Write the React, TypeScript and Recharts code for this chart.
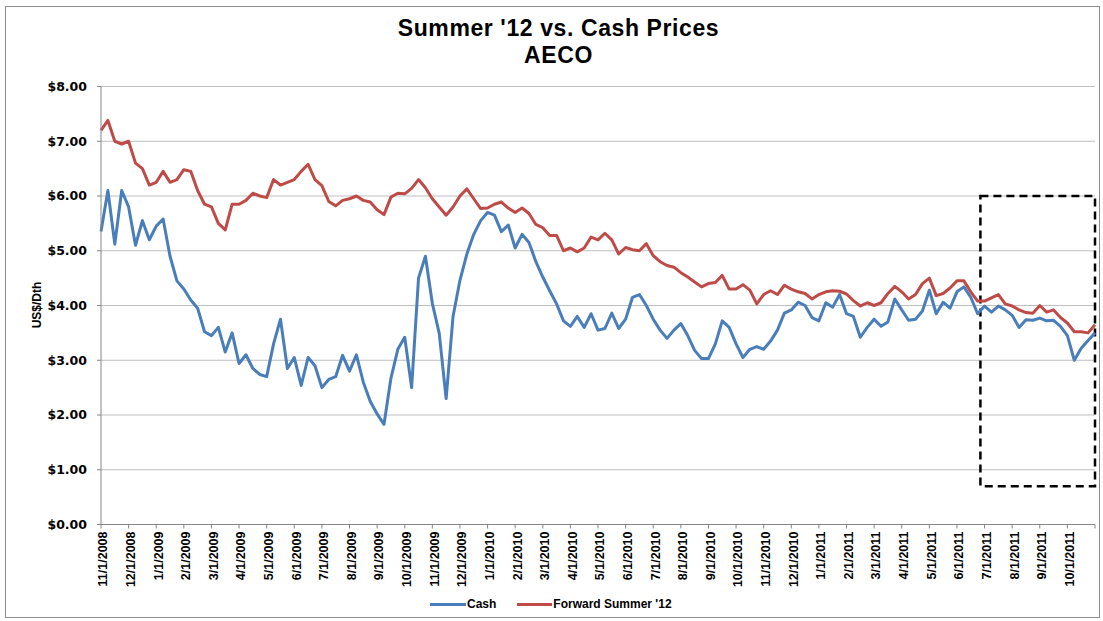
import React from "react";
import {
  LineChart,
  Line,
  XAxis,
  YAxis,
  CartesianGrid,
  ReferenceArea,
} from "recharts";

// month-start tick labels, 11/1/2008 .. 10/1/2011
const months = [
  "11/1/2008", "12/1/2008",
  "1/1/2009", "2/1/2009", "3/1/2009", "4/1/2009", "5/1/2009", "6/1/2009",
  "7/1/2009", "8/1/2009", "9/1/2009", "10/1/2009", "11/1/2009", "12/1/2009",
  "1/1/2010", "2/1/2010", "3/1/2010", "4/1/2010", "5/1/2010", "6/1/2010",
  "7/1/2010", "8/1/2010", "9/1/2010", "10/1/2010", "11/1/2010", "12/1/2010",
  "1/1/2011", "2/1/2011", "3/1/2011", "4/1/2011", "5/1/2011", "6/1/2011",
  "7/1/2011", "8/1/2011", "9/1/2011", "10/1/2011",
];

// prices sampled 4 times a month, starting 11/1/2008
const cash = [
  5.35, 6.1, 5.12, 6.1, 5.8, 5.1, 5.55, 5.2, 5.45, 5.58, 4.9, 4.45, 4.3, 4.1, 3.95,
  3.52, 3.45, 3.6, 3.15, 3.5, 2.94, 3.1, 2.85, 2.74, 2.7, 3.3, 3.75, 2.85, 3.05, 2.54,
  3.05, 2.9, 2.5, 2.65, 2.7, 3.09, 2.8, 3.1, 2.6, 2.25, 2.02, 1.83, 2.67, 3.2, 3.42,
  2.5, 4.5, 4.9, 4.04, 3.49, 2.3, 3.8, 4.46, 4.94, 5.3, 5.55, 5.7, 5.65,
  5.35, 5.47, 5.05, 5.3, 5.15, 4.8, 4.52, 4.27, 4.03, 3.72, 3.62, 3.8, 3.6, 3.85, 3.55,
  3.58, 3.86, 3.58, 3.75, 4.15, 4.2, 4.0, 3.75, 3.55, 3.4, 3.55, 3.67, 3.45, 3.18, 3.03,
  3.03, 3.3, 3.72, 3.6, 3.3, 3.05, 3.2, 3.25, 3.2, 3.35, 3.55, 3.86, 3.92, 4.06,
  4.0, 3.78, 3.72, 4.05, 3.97, 4.2, 3.85, 3.8, 3.42, 3.6, 3.75, 3.62, 3.7, 4.12,
  3.92, 3.73, 3.75, 3.9, 4.28, 3.85, 4.06, 3.95, 4.25, 4.34, 4.15, 3.85, 3.99, 3.88, 3.99,
  3.92, 3.82, 3.6, 3.74, 3.73, 3.77, 3.72, 3.73, 3.62, 3.45, 3.0, 3.22, 3.36, 3.5,
];

const forward = [
  7.2, 7.38, 7.0, 6.95, 7.0, 6.6, 6.5, 6.2, 6.25, 6.45, 6.25, 6.3, 6.48, 6.45, 6.1,
  5.85, 5.8, 5.5, 5.38, 5.85, 5.85, 5.92, 6.05, 6.0, 5.97, 6.3, 6.2, 6.25, 6.3, 6.45,
  6.58, 6.3, 6.19, 5.9, 5.82, 5.92, 5.95, 6.0, 5.92, 5.89, 5.75, 5.66, 5.98, 6.05, 6.04,
  6.14, 6.3, 6.15, 5.95, 5.8, 5.65, 5.8, 6.0, 6.13, 5.95, 5.77, 5.78, 5.85,
  5.89, 5.78, 5.7, 5.78, 5.68, 5.48, 5.42, 5.28, 5.28, 5.0, 5.05, 4.98, 5.05, 5.25, 5.2,
  5.32, 5.2, 4.94, 5.06, 5.02, 5.0, 5.13, 4.91, 4.8, 4.73, 4.7, 4.6, 4.52, 4.43, 4.34,
  4.4, 4.42, 4.55, 4.3, 4.3, 4.38, 4.28, 4.03, 4.2, 4.27, 4.2, 4.37, 4.3, 4.25,
  4.22, 4.12, 4.2, 4.25, 4.27, 4.26, 4.21, 4.09, 3.99, 4.05, 4.0, 4.05, 4.22, 4.35,
  4.25, 4.12, 4.2, 4.4, 4.5, 4.18, 4.22, 4.32, 4.45, 4.45, 4.25, 4.08, 4.08, 4.14, 4.2,
  4.03, 3.99, 3.92, 3.87, 3.86, 4.0, 3.88, 3.92, 3.78, 3.68, 3.52, 3.52, 3.5, 3.65,
];

const yTicks = [0, 1, 2, 3, 4, 5, 6, 7, 8];
const PER_MONTH = 4;

// highlighted window (months from 11/1/2008, US$)
const boxMonths = [31.85, 36];
const boxPrices = [0.7, 6.0];

const data = cash.map((c, i) => ({ t: i / PER_MONTH, cash: c, forward: forward[i] }));
const xTicks = Array.from({ length: months.length + 1 }, (_, i) => i);

const BLUE = "#4a7ebb";
const RED = "#be4b48";
const AXIS = "#868686";

function MonthTick({ x, y, payload }: { x?: number; y?: number; payload?: { value: number } }) {
  const label = months[payload?.value ?? -1] ?? "";
  const tx = (x ?? 0) + 2;
  const ty = (y ?? 0) + 1;
  return (
    <text
      x={tx}
      y={ty}
      transform={`rotate(-90, ${tx}, ${ty})`}
      textAnchor="end"
      dy="0.35em"
      fontFamily="Liberation Sans, Arial, sans-serif"
      fontWeight="bold"
      fontSize={12.5}
      fill="#000"
    >
      {label}
    </text>
  );
}

export default function App() {
  return (
    <div
      style={{
        position: "absolute",
        left: 0,
        top: 0,
        width: 1103,
        height: 621,
        background: "#fff",
        fontFamily: "Liberation Sans, Arial, sans-serif",
      }}
    >
      <div
        style={{
          position: "absolute",
          left: 5,
          top: 6,
          width: 1095,
          height: 612,
          border: "1px solid #8c8c8c",
          boxSizing: "border-box",
        }}
      />
      <div
        style={{
          position: "absolute",
          left: 7,
          top: 15,
          width: 1103,
          textAlign: "center",
          fontFamily: "'Liberation Sans Narrow', 'Liberation Sans', Arial, sans-serif",
          fontWeight: "bold",
          fontSize: 23,
          letterSpacing: 0.6,
          lineHeight: "27px",
          color: "#000",
        }}
      >
        <div>Summer '12 vs. Cash Prices</div>
        <div>AECO</div>
      </div>
      <div
        style={{
          position: "absolute",
          left: 37,
          top: 305,
          transform: "translate(-50%, -50%) rotate(-90deg)",
          fontWeight: "bold",
          fontSize: 12,
          whiteSpace: "nowrap",
        }}
      >
        US$/Dth
      </div>
      <div style={{ position: "absolute", left: 0, top: 0 }}>
        <LineChart
          width={1103}
          height={621}
          data={data}
          margin={{ top: 86.5, right: 8, bottom: 26.5, left: 41 }}
        >
          <CartesianGrid vertical={false} stroke="#bfbfbf" />
          <XAxis
            dataKey="t"
            type="number"
            domain={[0, months.length]}
            ticks={xTicks}
            interval={0}
            height={70}
            tick={<MonthTick />}
            tickSize={4}
            tickMargin={2}
            axisLine={{ stroke: AXIS }}
            tickLine={{ stroke: AXIS }}
          />
          <YAxis
            type="number"
            domain={[0, 8]}
            ticks={yTicks}
            interval={0}
            width={60}
            tickSize={4}
            tickMargin={10}
            tickFormatter={(v: number) => `$${v.toFixed(2)}`}
            tick={{ fill: "#000", fontSize: 12.5, fontWeight: "bold", fontFamily: "DejaVu Sans, sans-serif" }}
            axisLine={{ stroke: AXIS }}
            tickLine={{ stroke: AXIS }}
          />
          <Line
            type="linear"
            dataKey="cash"
            stroke={BLUE}
            strokeWidth={3}
            dot={false}
            strokeLinejoin="round"
            isAnimationActive={false}
          />
          <Line
            type="linear"
            dataKey="forward"
            stroke={RED}
            strokeWidth={3}
            dot={false}
            strokeLinejoin="round"
            isAnimationActive={false}
          />
          <ReferenceArea
            x1={boxMonths[0]}
            x2={boxMonths[1]}
            y1={boxPrices[0]}
            y2={boxPrices[1]}
            fill="none"
            fillOpacity={0}
            stroke="#000"
            strokeWidth={2.5}
            strokeDasharray="8 5"
            ifOverflow="visible"
          />
        </LineChart>
      </div>
      <div
        style={{
          position: "absolute",
          left: 430,
          top: 597,
          display: "flex",
          alignItems: "center",
          fontWeight: "bold",
          fontSize: 12,
          whiteSpace: "nowrap",
        }}
      >
        <span style={{ display: "inline-block", width: 36, height: 3, background: BLUE, marginRight: 1 }} />
        <span style={{ marginRight: 21 }}>Cash</span>
        <span style={{ display: "inline-block", width: 35, height: 3, background: RED, marginRight: 1 }} />
        <span>Forward Summer '12</span>
      </div>
    </div>
  );
}
